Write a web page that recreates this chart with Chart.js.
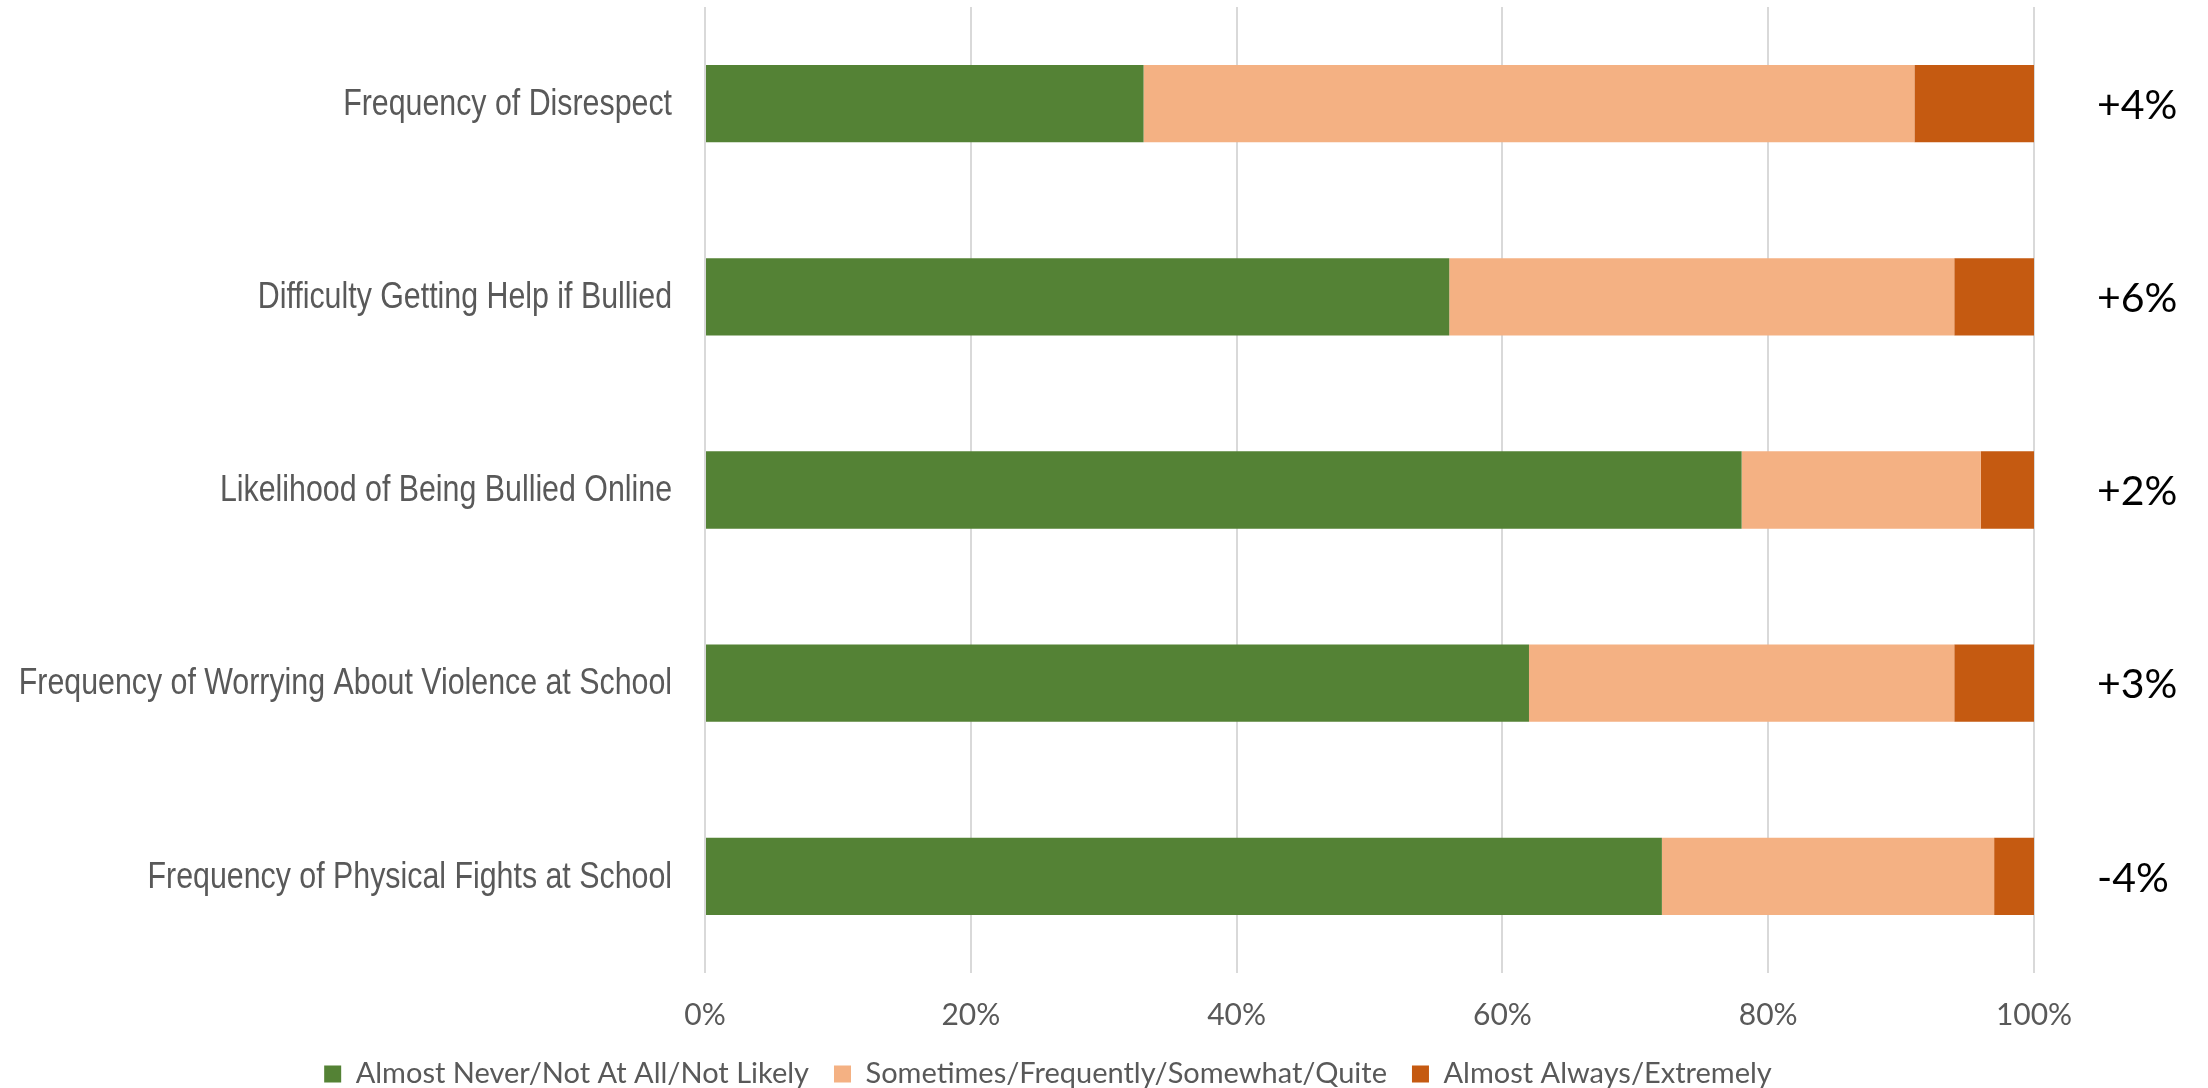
<!DOCTYPE html>
<html>
<head>
<meta charset="utf-8">
<script src="https://cdn.jsdelivr.net/npm/chart.js@4.4.1/dist/chart.umd.min.js"></script>
<style>
  html, body { margin: 0; padding: 0; background: #fff; }
</style>
</head>
<body>
<canvas id="chartSafety" width="2208" height="1088"></canvas>
<script>
  // ---- data ----
  const categories = [
    "Frequency of Disrespect",
    "Difficulty Getting Help if Bullied",
    "Likelihood of Being Bullied Online",
    "Frequency of Worrying About Violence at School",
    "Frequency of Physical Fights at School"
  ];
  const seriesNames = [
    "Almost Never/Not At All/Not Likely",
    "Sometimes/Frequently/Somewhat/Quite",
    "Almost Always/Extremely"
  ];
  const almostNever = [33, 56, 78, 62, 72];
  const sometimes = [58, 38, 18, 32, 25];
  const almostAlways = [9, 6, 4, 6, 3];
  const changeLabels = ["+4%", "+6%", "+2%", "+3%", "-4%"];
  const xTickStep = 20;

  const seriesColors = ["#548235", "#F4B183", "#C55A11"];
  const grey = "#595959";

  // category labels: no narrow font installed, so squeeze Liberation Sans
  const categoryLabelPlugin = {
    id: "categoryLabels",
    afterDraw(chart) {
      const { ctx, chartArea, scales } = chart;
      ctx.save();
      ctx.font = "37px 'Liberation Sans', Arial, sans-serif";
      ctx.fillStyle = grey;
      ctx.textAlign = "right";
      ctx.textBaseline = "middle";
      categories.forEach((t, i) => {
        ctx.save();
        ctx.translate(chartArea.left - 33, scales.y.getPixelForValue(i) + 1);
        ctx.scale(0.82, 1);
        ctx.fillText(t, 0, 0);
        ctx.restore();
      });
      ctx.restore();
    }
  };

  // ---- right-hand change labels ----
  const changeLabelPlugin = {
    id: "changeLabels",
    afterDatasetsDraw(chart) {
      const { ctx, chartArea, scales } = chart;
      ctx.save();
      ctx.font = "41px Lato";
      ctx.fillStyle = "#000";
      ctx.textAlign = "left";
      ctx.textBaseline = "middle";
      changeLabels.forEach((t, i) => {
        ctx.fillText(t, chartArea.right + 63, scales.y.getPixelForValue(i) + 2);
      });
      ctx.restore();
    }
  };

  const mkSet = (idx, data) => ({
    label: seriesNames[idx],
    data: data,
    backgroundColor: seriesColors[idx],
    borderWidth: 0,
    barPercentage: 0.4,
    categoryPercentage: 1.0
  });

  new Chart(document.getElementById("chartSafety"), {
    type: "bar",
    data: {
      labels: categories,
      datasets: [
        mkSet(0, almostNever),
        mkSet(1, sometimes),
        mkSet(2, almostAlways)
      ]
    },
    options: {
      indexAxis: "y",
      responsive: false,
      animation: false,
      devicePixelRatio: 1,
      layout: { padding: { top: 7, right: 112, bottom: -10.5, left: 0 } },
      scales: {
        x: {
          stacked: true,
          min: 0,
          max: 100,
          ticks: {
            stepSize: xTickStep,
            callback: (v) => v + "%",
            font: { family: "Lato", size: 30 },
            color: grey,
            padding: 24,
            maxRotation: 0
          },
          grid: { color: "#d9d9d9", lineWidth: 2, drawTicks: false },
          border: { display: false },
          afterFit: (s) => { s.height = 61.5; s.paddingRight = 174; }
        },
        y: {
          stacked: true,
          ticks: { display: false },
          grid: { display: false, drawTicks: false },
          border: { display: false },
          afterFit: (s) => { s.width = 705; s.paddingTop = 0; s.paddingBottom = 0; }
        }
      },
      plugins: {
        legend: {
          position: "bottom",
          labels: {
            boxWidth: 17,
            boxHeight: 17,
            padding: 25,
            color: grey,
            font: { family: "Lato", size: 29 }
          }
        },
        tooltip: { enabled: false }
      }
    },
    plugins: [changeLabelPlugin, categoryLabelPlugin]
  });
</script>
</body>
</html>
